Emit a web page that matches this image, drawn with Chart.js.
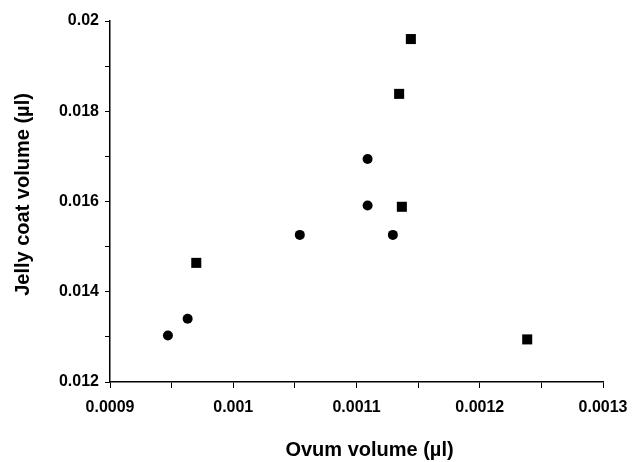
<!DOCTYPE html>
<html>
<head>
<meta charset="utf-8">
<script src="https://cdn.jsdelivr.net/npm/chart.js@4"></script>
<style>
  html, body { margin: 0; padding: 0; background: #fff; }
  #wrap { width: 632px; height: 462px; position: relative; }
</style>
</head>
<body>
<div id="wrap"><canvas id="c" width="632" height="462"></canvas></div>
<script>
// Circles series
const circleX = [0.000947, 0.000963, 0.001054, 0.001109, 0.001109, 0.0011295];
const circleY = [0.01303, 0.01340, 0.01526, 0.01694, 0.01591, 0.01526];
// Squares series
const squareX = [0.000970, 0.0011346, 0.0011441, 0.0011368, 0.0012385];
const squareY = [0.01464, 0.018385, 0.01960, 0.015883, 0.012944];
// Tick labels
const xTickLabels = ['0.0009', '0.001', '0.0011', '0.0012', '0.0013'];
const yTickLabels = ['0.012', '0.014', '0.016', '0.018', '0.02'];
const xTitle = 'Ovum volume (\u00b5l)';
const yTitle = 'Jelly coat volume (\u00b5l)';

const FONT = '"Liberation Sans", Arial, Helvetica, sans-serif';

const toPts = (xs, ys) => xs.map((x, i) => ({ x: x, y: ys[i] }));

const titlePlugin = {
  id: 'axisTitles',
  afterDraw(chart) {
    const ctx = chart.ctx;
    const a = chart.chartArea;
    ctx.save();
    ctx.fillStyle = '#000';
    ctx.font = 'bold 20px ' + FONT;
    ctx.textAlign = 'center';
    ctx.textBaseline = 'middle';
    ctx.fillText(xTitle, (a.left + a.right) / 2 + 13, 450);
    ctx.translate(23, (a.top + a.bottom) / 2 - 7);
    ctx.rotate(-Math.PI / 2);
    ctx.fillText(yTitle, 0, 0);
    ctx.restore();
  }
};

new Chart(document.getElementById('c'), {
  type: 'scatter',
  data: {
    datasets: [
      {
        label: 'circles',
        data: toPts(circleX, circleY),
        pointStyle: 'circle',
        pointRadius: 5,
        pointHoverRadius: 5,
        backgroundColor: '#000',
        borderColor: '#000',
        borderWidth: 0
      },
      {
        label: 'squares',
        data: toPts(squareX, squareY),
        pointStyle: 'rect',
        pointRadius: 7.1,
        pointHoverRadius: 7.1,
        backgroundColor: '#000',
        borderColor: '#000',
        borderWidth: 0
      }
    ]
  },
  options: {
    responsive: false,
    animation: false,
    devicePixelRatio: 1,
    layout: { padding: { top: 21, right: 29, left: 0, bottom: 0 } },
    plugins: { legend: { display: false }, tooltip: { enabled: false } },
    scales: {
      x: {
        type: 'linear',
        min: 0.0009,
        max: 0.0013,
        afterFit(scale) { scale.height = 80; },
        ticks: {
          stepSize: 0.00005,
          autoSkip: false,
          maxRotation: 0,
          padding: 4,
          color: '#000',
          font: { family: FONT, size: 16, weight: 'bold', lineHeight: 2.0 },
          callback: (v, i) => (i % 2 === 0 ? xTickLabels[i / 2] : '')
        },
        grid: { display: true, drawOnChartArea: false, drawTicks: true, tickLength: 6, color: '#000', lineWidth: 1 },
        border: { display: true, color: '#000', width: 1.5 }
      },
      y: {
        type: 'linear',
        min: 0.012,
        max: 0.02,
        afterFit(scale) { scale.width = 110; },
        ticks: {
          stepSize: 0.001,
          autoSkip: false,
          padding: 6,
          color: '#000',
          font: { family: FONT, size: 16, weight: 'bold' },
          callback: (v, i) => (i % 2 === 0 ? yTickLabels[i / 2] : '')
        },
        grid: { display: true, drawOnChartArea: false, drawTicks: true, tickLength: 5, color: '#000', lineWidth: 1 },
        border: { display: true, color: '#000', width: 1.5 }
      }
    }
  },
  plugins: [titlePlugin]
});
</script>
</body>
</html>
